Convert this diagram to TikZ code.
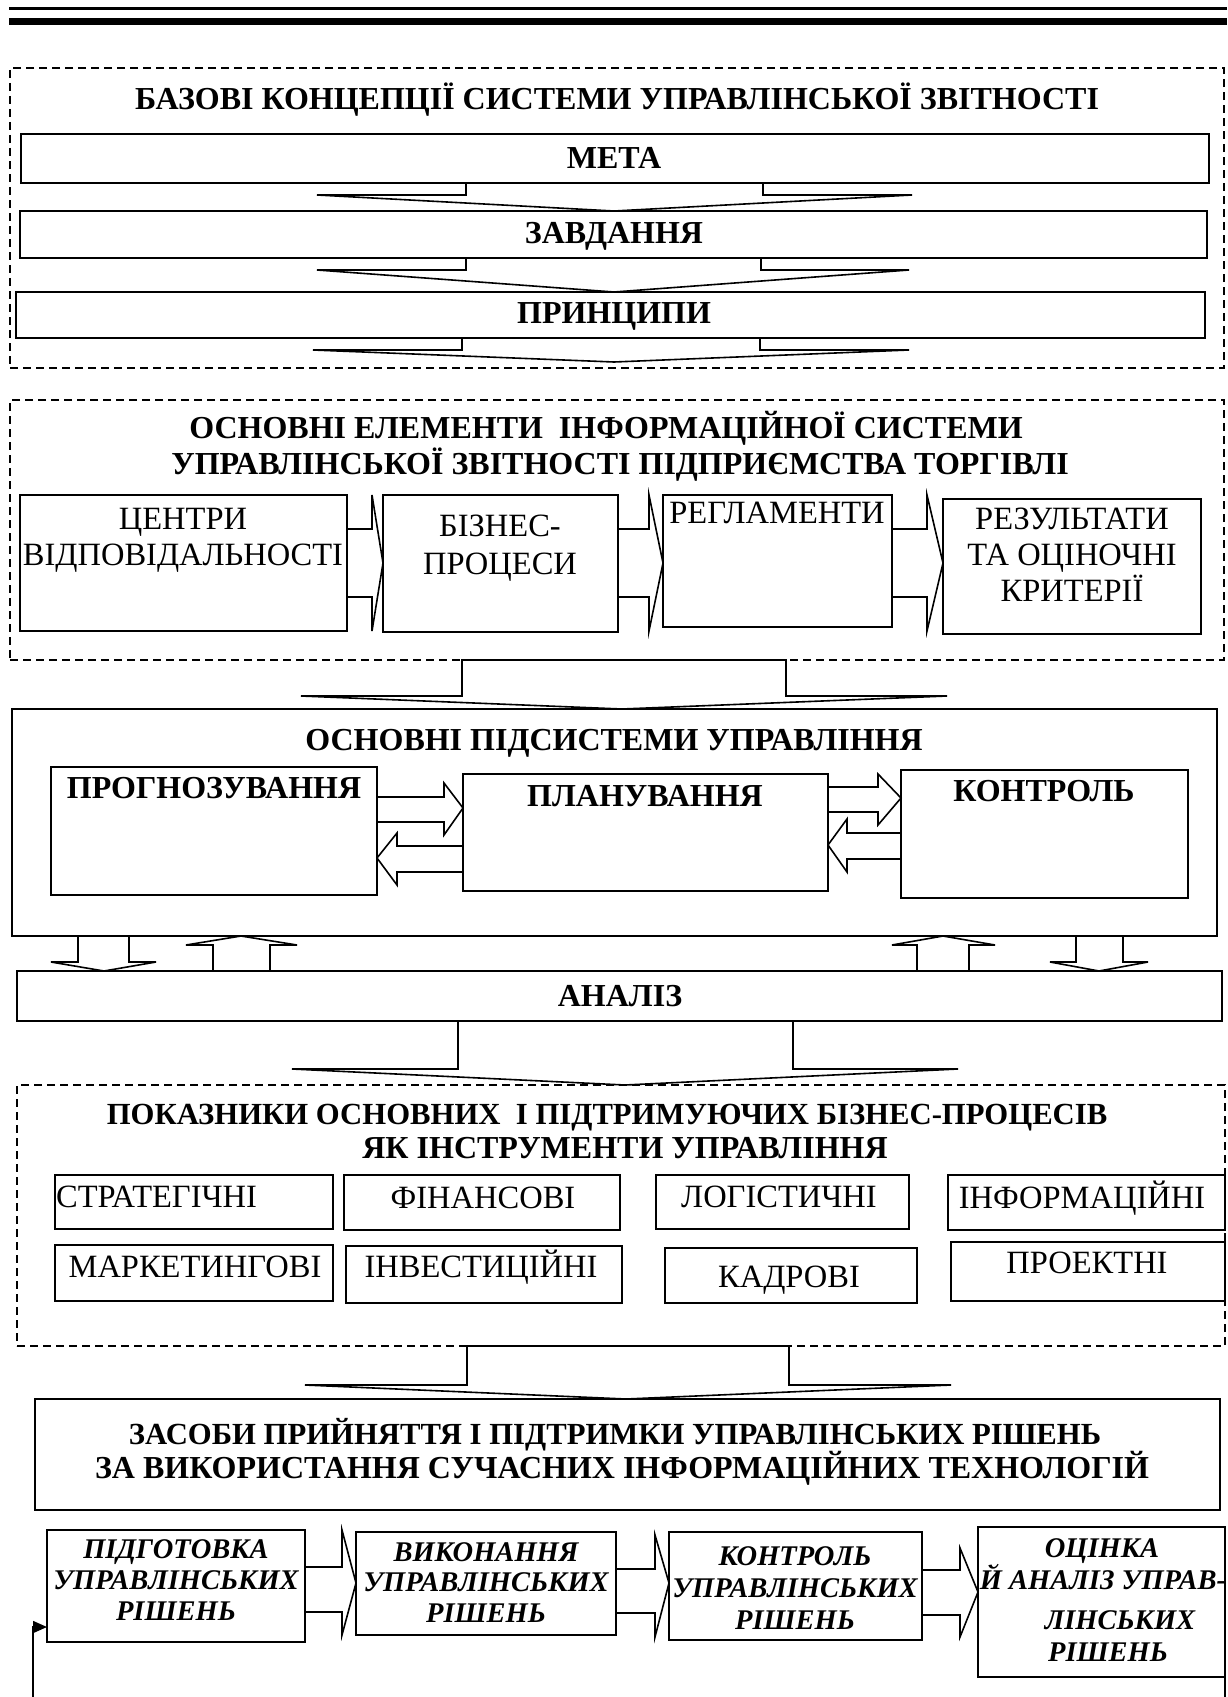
\documentclass[tikz,border=0pt]{standalone}
\usepackage{fontspec}
\setmainfont{Liberation Serif}
\usetikzlibrary{fit,arrows.meta}
\newcommand\mkbox[6][bx]{\node[#1,fit={(#3,#4) (#5,#6)}] (#2) {};}
% vertical block arrow: start, tip, xl, xr, xwl, xwr, xtip, yshoulder
\newcommand\varr[8]{\draw[ar] (#3,0 |- #1) -- (#3,#8) -- (#5,#8) -- (#7,0 |- #2) -- (#6,#8) -- (#4,#8) -- (#4,0 |- #1) -- cycle;}
% horizontal block arrow: start, tip, y1, y2, yh1, yh2, ytip, xshoulder
\newcommand\harr[8]{\draw[ar] (#1 |- 0,#3) -- (#8,#3) -- (#8,#5) -- (#2 |- 0,#7) -- (#8,#6) -- (#8,#4) -- (#1 |- 0,#4) -- cycle;}
\begin{document}
\begin{tikzpicture}[x=1pt,y=-1pt,
  bx/.style={draw,line width=1.8pt,inner sep=0pt,outer sep=0pt},
  dbx/.style={draw,line width=1.3pt,dash pattern=on 8pt off 5pt,inner sep=0pt,outer sep=0pt},
  ar/.style={draw,line width=1.6pt,line join=miter},
  hb/.style={inner sep=0pt,text height=21.1pt,text depth=0pt,font=\bfseries\fontsize{32}{35}\selectfont},
  hbs/.style={inner sep=0pt,text height=20.3pt,text depth=0pt,font=\bfseries\fontsize{30.7}{34}\selectfont},
  rg/.style={inner sep=0pt,text height=21.5pt,text depth=0pt,font=\fontsize{32.5}{36}\selectfont},
  bi/.style={inner sep=0pt,text height=18.8pt,text depth=0pt,font=\bfseries\itshape\fontsize{28.5}{31}\selectfont},
]
\useasboundingbox (0,0) rectangle (1227,1697);
\fill (9,7) rectangle (1227,9.5);
\fill (9,18) rectangle (1227,25);

% ---------- section 1
\mkbox[dbx]{sec1}{10}{68}{1224}{368}
\node[hb] (t1) at (617,99) {БАЗОВІ КОНЦЕПЦІЇ СИСТЕМИ УПРАВЛІНСЬКОЇ ЗВІТНОСТІ};
\mkbox{meta}{21}{134}{1209}{183}
\node[hb] (tmeta) at (614,158) {МЕТА};
\mkbox{zavd}{20}{211}{1207}{258}
\node[hb] (tzavd) at (614,233) {ЗАВДАННЯ};
\mkbox{pryn}{16}{292}{1205}{338}
\node[hb] (tpryn) at (614,313) {ПРИНЦИПИ};
\coordinate (p1end) at (614,362);
\varr{meta.south}{zavd.north}{466}{763}{317}{912}{614}{195}
\varr{zavd.south}{pryn.north}{466}{761}{317}{909}{614}{270}
\varr{pryn.south}{p1end}{462}{760}{313}{909}{614}{350}

% ---------- section 2
\mkbox[dbx]{sec2}{10}{400}{1224}{660}
\node[hb] (t2a) at (606,428) {ОСНОВНІ ЕЛЕМЕНТИ\ \ ІНФОРМАЦІЙНОЇ СИСТЕМИ};
\node[hb] (t2b) at (620,464) {УПРАВЛІНСЬКОЇ ЗВІТНОСТІ ПІДПРИЄМСТВА ТОРГІВЛІ};
\mkbox{b1}{20}{495}{347}{631}
\node[rg] (b1a) at (183,519) {ЦЕНТРИ};
\node[rg] (b1b) at (183,555) {ВІДПОВІДАЛЬНОСТІ};
\mkbox{b2}{383}{495}{618}{632}
\node[rg] (b2a) at (500,526) {БІЗНЕС-};
\node[rg] (b2b) at (500,564) {ПРОЦЕСИ};
\mkbox{b3}{663}{495}{892}{627}
\node[rg] (b3a) at (777,513) {РЕГЛАМЕНТИ};
\mkbox{b4}{943}{499}{1201}{634}
\node[rg] (b4a) at (1072,519) {РЕЗУЛЬТАТИ};
\node[rg] (b4b) at (1072,555) {ТА ОЦІНОЧНІ};
\node[rg] (b4c) at (1072,591) {КРИТЕРІЇ};
\harr{b1.east}{b2.west}{529}{597}{495}{631}{563}{372}
\harr{b2.east}{b3.west}{529}{597}{495}{631}{563}{649}
\harr{b3.east}{b4.west}{529}{597}{495}{631}{563}{927}

% ---------- section 3
\mkbox{sec3}{12}{709}{1217}{936}
\varr{sec2.south}{sec3.north}{462}{786}{301}{947}{622}{696}
\node[hb] (t3) at (614,740) {ОСНОВНІ ПІДСИСТЕМИ УПРАВЛІННЯ};
\mkbox{prog}{51}{767}{377}{895}
\node[hb] (tprog) at (214,788) {ПРОГНОЗУВАННЯ};
\mkbox{plan}{463}{774}{828}{891}
\node[hb] (tplan) at (645,796) {ПЛАНУВАННЯ};
\mkbox{kont}{901}{770}{1188}{898}
\node[hb] (tkont) at (1044,791) {КОНТРОЛЬ};
\harr{prog.east}{plan.west}{797}{822}{783}{835}{808}{444}
\harr{plan.west}{prog.east}{846}{872}{833}{885}{858}{397}
\harr{plan.east}{kont.west}{787}{812}{774}{825}{798}{878}
\harr{kont.west}{plan.east}{833}{859}{819}{872}{845}{847}

% ---------- analysis
\mkbox{anal}{17}{971}{1222}{1021}
\node[hb] (tanal) at (620,996) {АНАЛІЗ};
\varr{sec3.south}{anal.north}{78}{129}{51}{156}{104}{962}
\varr{anal.north}{sec3.south}{213}{270}{186}{297}{241}{945}
\varr{anal.north}{sec3.south}{917}{969}{892}{995}{943}{945}
\varr{sec3.south}{anal.north}{1076}{1123}{1050}{1148}{1099}{962}

% ---------- section 4
\mkbox[dbx]{sec4}{17}{1085}{1225}{1346}
\varr{anal.south}{sec4.north}{458}{793}{292}{958}{625}{1069}
\node[hbs] (t4a) at (607,1114) {ПОКАЗНИКИ ОСНОВНИХ\ \ І ПІДТРИМУЮЧИХ БІЗНЕС-ПРОЦЕСІВ};
\node[hb] (t4b) at (625,1148) {ЯК ІНСТРУМЕНТИ УПРАВЛІННЯ};
\mkbox{k1}{55}{1175}{333}{1229}
\node[rg,anchor=west] (tk1) at (56,1197) {СТРАТЕГІЧНІ};
\mkbox{k2}{344}{1175}{620}{1230}
\node[rg] (tk2) at (483,1198) {ФІНАНСОВІ};
\mkbox{k3}{656}{1175}{909}{1229}
\node[rg] (tk3) at (779,1197) {ЛОГІСТИЧНІ};
\mkbox{k4}{948}{1175}{1225}{1230}
\node[rg] (tk4) at (1082,1198) {ІНФОРМАЦІЙНІ};
\mkbox{k5}{55}{1245}{333}{1301}
\node[rg] (tk5) at (195,1267) {МАРКЕТИНГОВІ};
\mkbox{k6}{346}{1246}{622}{1303}
\node[rg] (tk6) at (481,1267) {ІНВЕСТИЦІЙНІ};
\mkbox{k7}{665}{1248}{917}{1303}
\node[rg] (tk7) at (789,1277) {КАДРОВІ};
\mkbox{k8}{951}{1242}{1225}{1301}
\node[rg] (tk8) at (1087,1263) {ПРОЕКТНІ};

% ---------- section 5
\mkbox{sec5}{35}{1399}{1220}{1510}
\varr{sec4.south}{sec5.north}{467}{789}{305}{951}{626}{1385}
\node[hbs] (t5a) at (615,1434) {ЗАСОБИ ПРИЙНЯТТЯ І ПІДТРИМКИ УПРАВЛІНСЬКИХ РІШЕНЬ};
\node[hb] (t5b) at (622,1468) {ЗА ВИКОРИСТАННЯ СУЧАСНИХ ІНФОРМАЦІЙНИХ ТЕХНОЛОГІЙ};

\mkbox{c1}{47}{1530}{305}{1642}
\node[bi] (c1a) at (176,1549) {ПІДГОТОВКА};
\node[bi] (c1b) at (176,1580) {УПРАВЛІНСЬКИХ};
\node[bi] (c1c) at (176,1611) {РІШЕНЬ};
\mkbox{c2}{356}{1532}{616}{1635}
\node[bi] (c2a) at (486,1552) {ВИКОНАННЯ};
\node[bi] (c2b) at (486,1582) {УПРАВЛІНСЬКИХ};
\node[bi] (c2c) at (486,1613) {РІШЕНЬ};
\mkbox{c3}{669}{1532}{922}{1640}
\node[bi] (c3a) at (795,1556) {КОНТРОЛЬ};
\node[bi] (c3b) at (795,1588) {УПРАВЛІНСЬКИХ};
\node[bi] (c3c) at (795,1620) {РІШЕНЬ};
\mkbox{c4}{978}{1527}{1225}{1677}
\node[bi] (c4a) at (1102,1548) {ОЦІНКА};
\node[bi] (c4b) at (1103,1580) {Й АНАЛІЗ УПРАВ-};
\node[bi] (c4c) at (1120,1620) {ЛІНСЬКИХ};
\node[bi] (c4d) at (1108,1652) {РІШЕНЬ};
\harr{c1.east}{c2.west}{1567}{1612}{1530}{1635}{1583}{342}
\harr{c2.east}{c3.west}{1569}{1613}{1535}{1637}{1583}{655}
\harr{c3.east}{c4.west}{1570}{1615}{1548}{1637}{1592}{960}

% feedback lines
\coordinate (fbL) at (33,1697);
\coordinate (fbR) at (1225,1697);
\draw[line width=1.6pt,-{Triangle[length=14pt,width=12pt]}] (fbL) -- (33,1627) -- (c1.west |- 0,1627);
\draw[line width=2pt] (c4.east |- 0,1605) -- (fbR);
\end{tikzpicture}
\end{document}
